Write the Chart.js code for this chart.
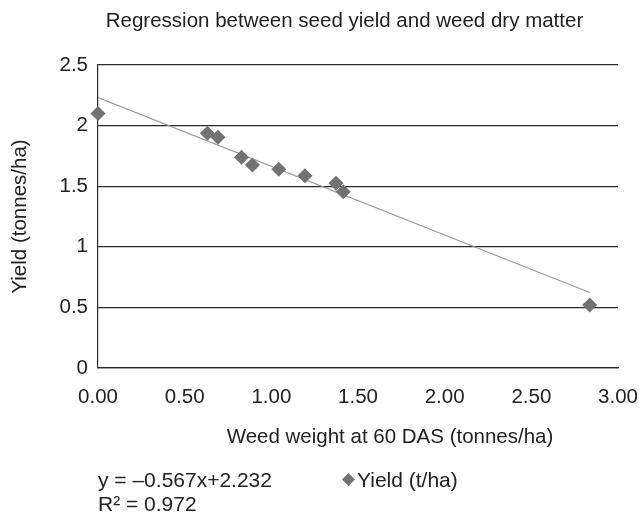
<!DOCTYPE html>
<html>
<head>
<meta charset="utf-8">
<script src="https://cdn.jsdelivr.net/npm/chart.js@4/dist/chart.umd.min.js"></script>
<style>
  body { margin: 0; background: #fff; }
  #wrap { width: 639px; height: 513px; }
</style>
</head>
<body>
<div id="wrap"><canvas id="myChart" width="639" height="513"></canvas></div>
<script>
// data
const weedWeight = [0.0, 0.631, 0.692, 0.828, 0.891, 1.043, 1.194, 1.373, 1.415, 2.837];
const seedYield = [2.10, 1.936, 1.903, 1.738, 1.675, 1.639, 1.587, 1.524, 1.455, 0.52];

// trend line end points (linear fit shown in the chart)
const trendX = [0.0, 2.837];
const trendY = [2.232, 0.623];

const xTickLabels = ["0.00", "0.50", "1.00", "1.50", "2.00", "2.50", "3.00"];
const yTickLabels = ["0", "0.5", "1", "1.5", "2", "2.5"];

const chartTitle = "Regression between seed yield and weed dry matter";
const xTitle = "Weed weight at 60 DAS (tonnes/ha)";
const yTitle = "Yield (tonnes/ha)";
const seriesName = "Yield (t/ha)";
const equationText = "y = \u20130.567x+2.232";
const r2Text = "R\u00b2 = 0.972";

const FONT = "'Liberation Sans', Arial, sans-serif";
const TEXT = "#222";
const GRID = "#2a2a2a";
const MARK = "#727272";

const pts = weedWeight.map((x, i) => ({ x: x, y: seedYield[i] }));
const trend = trendX.map((x, i) => ({ x: x, y: trendY[i] }));

// title, x title, equation and legend entry (placed like the original)
const notes = {
  id: "notes",
  afterDraw(chart) {
    const c = chart.ctx;
    c.save();
    c.fillStyle = TEXT;
    c.textBaseline = "alphabetic";
    c.font = "20.5px " + FONT;
    c.textAlign = "center";
    c.fillText(chartTitle, 344.5, 26.5);
    c.fillText(xTitle, 390, 443);
    c.font = "21px " + FONT;
    c.textAlign = "left";
    c.fillText(equationText, 98, 487);
    c.fillText(r2Text, 98, 511);
    // legend marker
    c.fillStyle = MARK;
    c.beginPath();
    c.moveTo(348.5, 473);
    c.lineTo(355, 479.5);
    c.lineTo(348.5, 486);
    c.lineTo(342, 479.5);
    c.closePath();
    c.fill();
    c.fillStyle = TEXT;
    c.fillText(seriesName, 357, 487);
    c.restore();
  },
};

const config = {
  type: "scatter",
  data: {
    datasets: [
      {
        label: seriesName,
        data: pts,
        pointStyle: "rectRot",
        radius: 7.5,
        backgroundColor: MARK,
        borderWidth: 0,
        clip: false,
      },
      {
        label: "Linear",
        data: trend,
        showLine: true,
        borderColor: "#9a9a9a",
        borderWidth: 1.2,
        pointRadius: 0,
      },
    ],
  },
  options: {
    responsive: false,
    animation: false,
    layout: { padding: { left: 0, right: 21, top: 65, bottom: 60 } },
    scales: {
      x: {
        type: "linear",
        min: 0,
        max: 3,
        afterFit: (s) => {
          s.height = 85;
          s.paddingLeft = 0;
          s.paddingRight = 0;
        },
        ticks: {
          stepSize: 0.5,
          padding: 17,
          color: TEXT,
          font: { family: FONT, size: 20.5 },
          callback: (v, i) => xTickLabels[i],
        },
        grid: { display: false, drawTicks: false },
        border: { display: true, color: GRID, width: 1.2 },
      },
      y: {
        min: 0,
        max: 2.5,
        afterFit: (s) => { s.width = 98; },
        ticks: {
          stepSize: 0.5,
          padding: 10,
          color: TEXT,
          font: { family: FONT, size: 20.5 },
          callback: (v, i) => yTickLabels[i],
        },
        grid: { color: GRID, lineWidth: 1.2, drawTicks: false },
        border: { display: true, color: GRID, width: 1.2 },
        title: {
          display: true,
          text: yTitle,
          color: TEXT,
          font: { family: FONT, size: 20.5 },
          padding: { top: 8, bottom: 0 },
        },
      },
    },
    plugins: {
      legend: { display: false },
      tooltip: { enabled: false },
      title: { display: false },
    },
  },
  plugins: [notes],
};

const ctx = document.getElementById("myChart").getContext("2d");
new Chart(ctx, config);
</script>
</body>
</html>
